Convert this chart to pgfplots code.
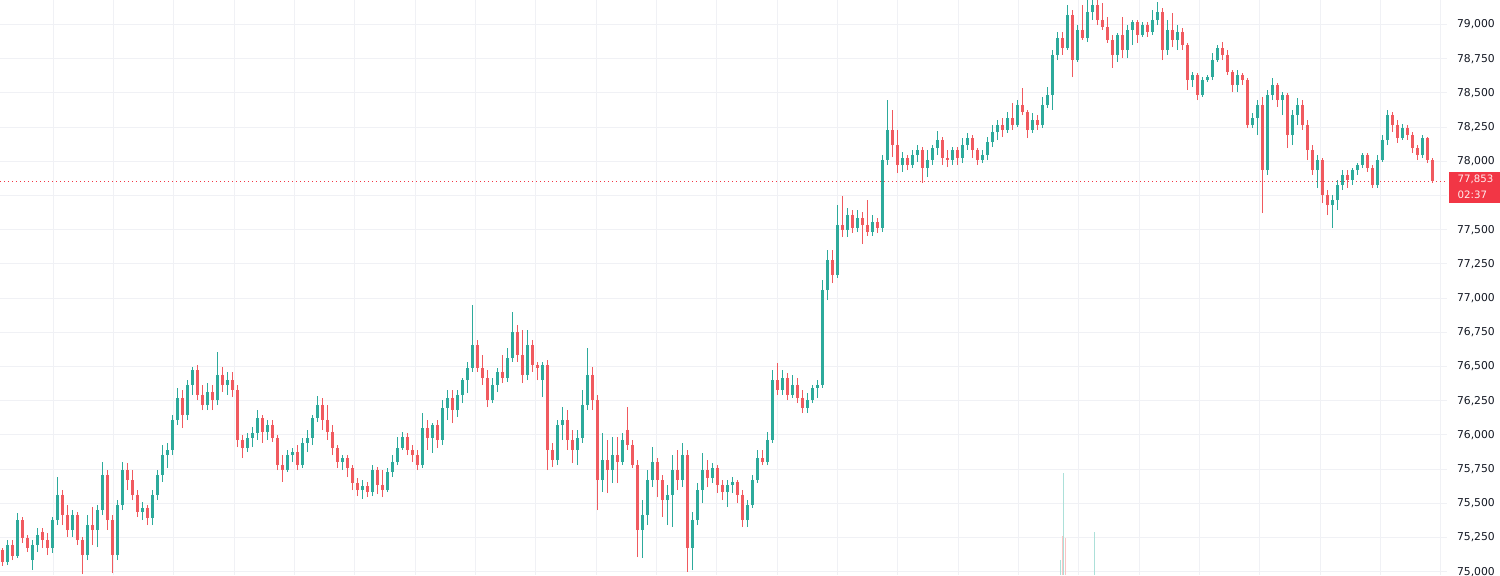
\documentclass[border=0pt]{standalone}
\usepackage{pgfplots}
\pgfplotsset{compat=1.18}
\usepackage{pgfplotstable}
\usepackage{fontspec}
\setmainfont{DejaVu Sans}
\definecolor{tvgreen}{RGB}{45,170,155}
\definecolor{tvred}{RGB}{240,90,95}
\definecolor{tvline}{RGB}{242,54,69}
\definecolor{tvgrid}{RGB}{240,241,245}
\definecolor{tvtext}{RGB}{19,23,34}
\definecolor{tvvolg}{RGB}{172,224,217}
\definecolor{tvvolr}{RGB}{249,197,197}
\pgfplotstableread{
i o h l c
0 75159 75173 75042 75071
1 75071 75232 75049 75195
2 75195 75232 75085 75115
3 75115 75429 75100 75378
4 75378 75400 75210 75246
5 75246 75268 75144 75173
6 75085 75232 75012 75195
7 75195 75319 75144 75268
8 75290 75319 75173 75232
9 75232 75283 75122 75173
10 75173 75400 75137 75378
11 75378 75692 75341 75561
12 75561 75597 75341 75414
13 75414 75487 75254 75305
14 75305 75451 75254 75414
15 75414 75436 75195 75232
16 75232 75254 74983 75122
17 75122 75414 75085 75341
18 75341 75473 75195 75305
19 75305 75487 75180 75451
20 75451 75802 75414 75707
21 75707 75743 75305 75378
22 75378 75414 74990 75122
23 75122 75524 75085 75487
24 75487 75802 75451 75743
25 75743 75794 75597 75670
26 75670 75743 75524 75561
27 75561 75597 75400 75436
28 75436 75509 75378 75466
29 75466 75487 75341 75392
30 75392 75597 75341 75561
31 75561 75743 75524 75707
32 75707 75926 75656 75853
33 75853 75941 75758 75890
34 75890 76145 75853 76109
35 76109 76343 76072 76270
36 76270 76328 76050 76145
37 76145 76401 76109 76365
38 76365 76496 76292 76474
39 76474 76511 76255 76292
40 76292 76365 76182 76218
41 76218 76379 76182 76313
42 76313 76365 76182 76255
43 76255 76606 76218 76438
44 76438 76496 76313 76365
45 76365 76460 76292 76401
46 76401 76460 76277 76328
47 76328 76365 75911 75963
48 75963 75999 75831 75904
49 75904 76014 75875 75977
50 75977 76058 75911 76014
51 76014 76182 75963 76123
52 76123 76145 75941 76021
53 76021 76109 75963 76072
54 76072 76109 75948 75977
55 75977 75999 75743 75780
56 75780 75853 75656 75743
57 75743 75890 75729 75853
58 75853 75904 75802 75875
59 75875 75926 75743 75780
60 75780 75977 75758 75941
61 75941 76036 75875 75977
62 75977 76145 75926 76123
63 76123 76284 76094 76218
64 76218 76270 76036 76109
65 76109 76218 75963 76021
66 76021 76072 75853 75904
67 75904 75926 75758 75802
68 75802 75853 75743 75831
69 75831 75853 75692 75758
70 75758 75780 75597 75648
71 75648 75685 75553 75597
72 75597 75670 75531 75626
73 75626 75656 75546 75582
74 75582 75780 75553 75743
75 75743 75765 75568 75634
76 75634 75743 75546 75597
77 75597 75758 75582 75729
78 75729 75853 75692 75802
79 75802 75985 75780 75904
80 75904 76021 75890 75985
81 75985 76014 75853 75890
82 75890 75926 75802 75853
83 75853 75890 75743 75780
84 75780 76160 75758 76050
85 76050 76109 75890 75977
86 75977 76087 75868 76072
87 76072 76109 75904 75963
88 75963 76255 75926 76197
89 76197 76328 76109 76270
90 76270 76328 76087 76182
91 76182 76328 76131 76292
92 76292 76416 76233 76401
93 76401 76533 76306 76489
94 76489 76949 76460 76657
95 76657 76694 76460 76489
96 76489 76584 76365 76416
97 76416 76474 76204 76255
98 76255 76416 76233 76365
99 76365 76489 76313 76460
100 76460 76584 76379 76416
101 76416 76635 76387 76562
102 76562 76898 76533 76752
103 76752 76803 76533 76584
104 76584 76767 76379 76438
105 76438 76767 76401 76657
106 76657 76694 76460 76511
107 76511 76533 76401 76489
108 76401 76533 76277 76511
109 76511 76547 75743 75890
110 75890 75941 75765 75816
111 75816 76109 75780 76072
112 76072 76204 75963 76109
113 76109 76182 75890 75963
114 75963 76036 75794 75890
115 75890 76036 75780 75977
116 75977 76328 75941 76218
117 76218 76635 76182 76438
118 76438 76496 76182 76255
119 76255 76292 75451 75670
120 75670 76014 75582 75816
121 75816 75963 75575 75743
122 75743 75985 75648 75853
123 75853 75985 75648 75802
124 75802 76014 75780 75963
125 76036 76204 75890 75926
126 75926 75963 75758 75780
127 75780 75816 75107 75305
128 75305 75524 75100 75414
129 75414 75743 75341 75670
130 75670 75911 75619 75802
131 75802 75831 75546 75670
132 75670 75707 75400 75524
133 75524 75634 75341 75561
134 75561 75853 75327 75743
135 75743 75890 75597 75670
136 75670 75941 75619 75853
137 75853 75890 74998 75173
138 75173 75436 75012 75378
139 75378 75648 75341 75597
140 75597 75868 75502 75743
141 75743 75816 75619 75685
142 75685 75794 75648 75758
143 75758 75780 75575 75634
144 75634 75670 75524 75582
145 75582 75670 75473 75634
146 75634 75692 75575 75656
147 75656 75670 75502 75561
148 75561 75597 75327 75378
149 75378 75524 75327 75487
150 75487 75707 75466 75670
151 75670 75890 75648 75831
152 75831 75890 75780 75802
153 75802 76021 75780 75963
154 75963 76474 75941 76401
155 76401 76525 76292 76328
156 76328 76474 76292 76416
157 76416 76452 76255 76292
158 76292 76438 76270 76365
159 76365 76416 76233 76270
160 76270 76328 76160 76197
161 76197 76306 76160 76255
162 76255 76365 76233 76343
163 76343 76401 76270 76365
164 76365 77132 76343 77059
165 77059 77352 76986 77278
166 77278 77352 77110 77169
167 77169 77680 77147 77534
168 77534 77746 77447 77498
169 77498 77658 77447 77607
170 77607 77644 77476 77512
171 77512 77644 77483 77585
172 77585 77629 77395 77534
173 77534 77717 77454 77483
174 77483 77607 77454 77556
175 77556 77585 77476 77512
176 77512 78046 77483 78009
177 78009 78448 77973 78229
178 78229 78375 78031 78119
179 78119 78229 77914 77973
180 77973 78068 77922 78024
181 78024 78046 77936 77973
182 77973 78083 77951 78046
183 78046 78119 77995 78083
184 78083 78104 77841 77951
185 77951 78083 77885 78009
186 78009 78119 77973 78097
187 78097 78221 78046 78156
188 78156 78178 77973 78024
189 78024 78083 77958 78009
190 78009 78104 77973 78083
191 78083 78104 77973 78024
192 78024 78170 77987 78119
193 78119 78207 78083 78170
194 78170 78192 78024 78083
195 78083 78097 77973 78009
196 78009 78083 77987 78046
197 78046 78178 78009 78141
198 78141 78265 78104 78214
199 78214 78302 78156 78265
200 78265 78316 78178 78229
201 78229 78360 78207 78316
202 78316 78426 78229 78265
203 78265 78448 78251 78411
204 78411 78536 78338 78360
205 78360 78375 78170 78229
206 78229 78353 78207 78302
207 78302 78338 78229 78265
208 78265 78470 78243 78411
209 78411 78543 78390 78485
210 78485 78814 78375 78777
211 78777 78945 78740 78901
212 78901 78945 78777 78828
213 78828 79142 78814 79069
214 79069 79106 78616 78740
215 78740 78996 78726 78960
216 78960 79142 78887 78901
217 78901 79179 78872 79091
218 79091 79201 79033 79142
219 79142 79201 78996 79033
220 79033 79157 78960 78982
221 78982 79055 78865 78887
222 78887 78923 78682 78777
223 78777 78938 78726 78923
224 78923 79055 78755 78814
225 78814 78996 78755 78960
226 78960 79033 78850 79018
227 79018 79033 78865 78923
228 78923 79018 78909 78996
229 78996 79018 78909 78945
230 78945 79106 78923 79033
231 79033 79164 78996 79091
232 79091 79121 78740 78814
233 78814 79033 78777 78960
234 78960 79084 78835 78887
235 78887 78996 78814 78945
236 78945 78974 78814 78850
237 78850 78865 78521 78594
238 78594 78653 78543 78631
239 78631 78645 78448 78485
240 78485 78616 78470 78594
241 78594 78631 78580 78616
242 78616 78792 78594 78740
243 78740 78850 78726 78828
244 78828 78872 78740 78777
245 78777 78814 78631 78653
246 78653 78667 78506 78558
247 78558 78667 78506 78631
248 78631 78645 78558 78594
249 78594 78609 78243 78265
250 78265 78353 78243 78316
251 78316 78448 78192 78411
252 78411 78470 77622 77936
253 77936 78521 77900 78485
254 78485 78609 78448 78558
255 78558 78572 78397 78448
256 78448 78506 78338 78485
257 78485 78499 78097 78192
258 78192 78375 78119 78338
259 78338 78463 78265 78411
260 78411 78448 78229 78265
261 78265 78302 78009 78083
262 78083 78119 77900 77936
263 77936 78046 77805 78009
264 78009 78024 77695 77754
265 77754 77790 77607 77680
266 77680 77754 77512 77717
267 77717 77863 77644 77827
268 77827 77936 77790 77900
269 77900 77936 77805 77863
270 77863 77951 77827 77936
271 77936 77987 77900 77973
272 77973 78061 77951 78046
273 78046 78061 77922 77951
274 77951 77973 77805 77827
275 77827 78046 77805 78009
276 78009 78192 77995 78156
277 78156 78375 78119 78338
278 78338 78360 78214 78265
279 78265 78302 78134 78170
280 78170 78273 78156 78243
281 78243 78265 78156 78192
282 78192 78214 78061 78097
283 78097 78119 78009 78046
284 78046 78192 78024 78170
285 78170 78178 77987 78009
286 78009 78024 77841 77853
}\candles
\begin{document}
\begin{tikzpicture}
\useasboundingbox (0,0) rectangle (750pt,287.5pt);
\begin{axis}[
  at={(0,0)}, anchor=south west, scale only axis,
  width=723.5pt, height=287.5pt,
  xmin=-0.5, xmax=288.9, ymin=74976, ymax=79179,
  axis line style={draw=none}, major tick length=0pt,
  xtick={10.1,22.17,34.23,46.3,58.37,70.43,82.5,94.57,106.63,118.7,130.77,142.83,154.9,166.97,179.03,191.1,203.17,215.23,227.3,239.37,251.43,263.5,275.57,287.63},
  xticklabels={},
  ytick={75000,75250,75500,75750,76000,76250,76500,76750,77000,77250,77500,77750,78000,78250,78500,78750,79000},
  xmajorgrids, ymajorgrids,
  grid style={draw=tvgrid, line width=0.5pt},
  yticklabel pos=right,
  scaled y ticks=false,
  /pgf/number format/fixed, /pgf/number format/precision=0,
  /pgf/number format/1000 sep={,},
  /pgf/number format/assume math mode=true,
  yticklabel style={anchor=west, inner sep=0pt, xshift=4.8pt, text=tvtext, font=\fontsize{5.4}{6}\selectfont},
]
% last price line
\addplot[tvline, line width=0.6pt, dash pattern=on 0.7pt off 1.3pt] coordinates {(-0.5,77853) (288.9,77853)};
% up candles
\addplot[tvgreen, line width=0.5pt, quiver={u=0, v=\thisrow{h}-\thisrow{l}},
  restrict expr to domain={\thisrow{c}-\thisrow{o}}{0:100000}] table[x=i, y=l] {\candles};
\addplot[tvgreen, line width=1.3pt, quiver={u=0, v=\thisrow{c}-\thisrow{o}},
  restrict expr to domain={\thisrow{c}-\thisrow{o}}{0:100000}] table[x=i, y=o] {\candles};
% down candles
\addplot[tvred, line width=0.5pt, quiver={u=0, v=\thisrow{h}-\thisrow{l}},
  restrict expr to domain={\thisrow{o}-\thisrow{c}}{0.5:100000}] table[x=i, y=l] {\candles};
\addplot[tvred, line width=1.3pt, quiver={u=0, v=\thisrow{c}-\thisrow{o}},
  restrict expr to domain={\thisrow{o}-\thisrow{c}}{0.5:100000}] table[x=i, y=o] {\candles};
\end{axis}
\begin{axis}[
  at={(0,0)}, anchor=south west, scale only axis,
  width=723.5pt, height=287.5pt,
  xmin=-0.5, xmax=288.9, ymin=0, ymax=1000, hide axis,
]
\addplot[ycomb, tvvolg, line width=0.7pt] coordinates {(211.6,26) (212.15,177) (218.4,75)};
\addplot[ycomb, tvvolr, line width=0.7pt] coordinates {(211.95,68) (212.65,64)};
\end{axis}
\fill[tvline] (724.5pt,186pt) rectangle (750pt,201.3pt);
\node[anchor=west, text={rgb,255:red,255;green,236;blue,238}, font=\fontsize{5.1}{6}\selectfont, inner sep=0pt] at (728.6pt,197.9pt) {77,853};
\node[anchor=west, text={rgb,255:red,255;green,236;blue,238}, font=\fontsize{5.1}{6}\selectfont, inner sep=0pt] at (728.6pt,189.9pt) {02:37};
\end{tikzpicture}
\end{document}
